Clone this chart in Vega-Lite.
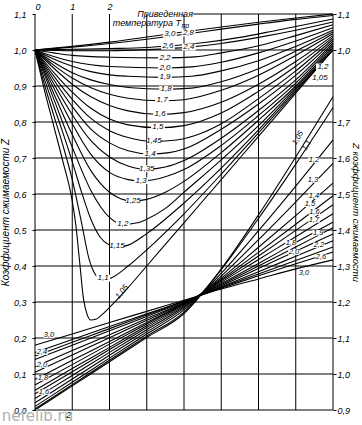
{
  "$schema": "https://vega.github.io/schema/vega-lite/v6.json",
  "width": 298,
  "height": 396,
  "autosize": {"type": "none"},
  "padding": {"left": 35, "top": 14, "right": 29, "bottom": 15},
  "background": "white",
  "config": {
    "view": {"stroke": null},
    "text": {"font": "Liberation Sans"},
    "axis": {"labelFont": "Liberation Sans", "titleFont": "Liberation Sans", "labelColor": "black", "titleColor": "black", "tickColor": "black", "domain": false, "grid": false}
  },
  "datasets": {
    "gridV": [{"u":0},{"u":1},{"u":2},{"u":3},{"u":4},{"u":5},{"u":6},{"u":7},{"u":8}],
    "gridH": [
      {"Z":0,"u":0,"u2":8},{"Z":0.1,"u":0,"u2":8},{"Z":0.2,"u":0,"u2":8},{"Z":0.3,"u":0,"u2":8},
      {"Z":0.4,"u":0,"u2":8},{"Z":0.5,"u":0,"u2":8},{"Z":0.6,"u":0,"u2":8},{"Z":0.7,"u":0,"u2":8},
      {"Z":0.8,"u":0,"u2":8},{"Z":0.9,"u":0,"u2":8},{"Z":1.0,"u":0,"u2":8},{"Z":1.1,"u":4.25,"u2":8}
    ],
    "famA": [
      {"T":"1.05","u":0,"Z":1},{"T":"1.05","u":0.25,"Z":0.89},{"T":"1.05","u":0.5,"Z":0.79},{"T":"1.05","u":0.75,"Z":0.69},{"T":"1.05","u":1,"Z":0.58},{"T":"1.05","u":1.1,"Z":0.51},{"T":"1.05","u":1.2,"Z":0.41},{"T":"1.05","u":1.3,"Z":0.31},{"T":"1.05","u":1.4,"Z":0.265},{"T":"1.05","u":1.5,"Z":0.25},{"T":"1.05","u":1.65,"Z":0.253},{"T":"1.05","u":1.8,"Z":0.265},{"T":"1.05","u":2,"Z":0.285},{"T":"1.05","u":2.5,"Z":0.34},{"T":"1.05","u":3,"Z":0.4},{"T":"1.05","u":4,"Z":0.52},{"T":"1.05","u":5,"Z":0.64},{"T":"1.05","u":6,"Z":0.76},{"T":"1.05","u":7,"Z":0.88},{"T":"1.05","u":8,"Z":1.0},
      {"T":"1.1","u":0,"Z":1},{"T":"1.1","u":0.25,"Z":0.905},{"T":"1.1","u":0.5,"Z":0.82},{"T":"1.1","u":0.75,"Z":0.735},{"T":"1.1","u":1,"Z":0.64},{"T":"1.1","u":1.25,"Z":0.52},{"T":"1.1","u":1.45,"Z":0.42},{"T":"1.1","u":1.6,"Z":0.38},{"T":"1.1","u":1.8,"Z":0.362},{"T":"1.1","u":2,"Z":0.365},{"T":"1.1","u":2.5,"Z":0.4},{"T":"1.1","u":3,"Z":0.445},{"T":"1.1","u":4,"Z":0.545},{"T":"1.1","u":5,"Z":0.655},{"T":"1.1","u":6,"Z":0.77},{"T":"1.1","u":7,"Z":0.885},{"T":"1.1","u":8,"Z":1.0},
      {"T":"1.15","u":0,"Z":1},{"T":"1.15","u":0.25,"Z":0.92},{"T":"1.15","u":0.5,"Z":0.845},{"T":"1.15","u":0.75,"Z":0.77},{"T":"1.15","u":1,"Z":0.69},{"T":"1.15","u":1.25,"Z":0.605},{"T":"1.15","u":1.5,"Z":0.53},{"T":"1.15","u":1.75,"Z":0.48},{"T":"1.15","u":2,"Z":0.458},{"T":"1.15","u":2.2,"Z":0.452},{"T":"1.15","u":2.5,"Z":0.458},{"T":"1.15","u":3,"Z":0.49},{"T":"1.15","u":4,"Z":0.575},{"T":"1.15","u":5,"Z":0.672},{"T":"1.15","u":6,"Z":0.778},{"T":"1.15","u":7,"Z":0.89},{"T":"1.15","u":8,"Z":1.0},
      {"T":"1.2","u":0,"Z":1},{"T":"1.2","u":0.5,"Z":0.865},{"T":"1.2","u":1,"Z":0.73},{"T":"1.2","u":1.5,"Z":0.61},{"T":"1.2","u":2,"Z":0.535},{"T":"1.2","u":2.36,"Z":0.515},{"T":"1.2","u":2.75,"Z":0.52},{"T":"1.2","u":3,"Z":0.53},{"T":"1.2","u":3.5,"Z":0.56},{"T":"1.2","u":4,"Z":0.605},{"T":"1.2","u":5,"Z":0.695},{"T":"1.2","u":6,"Z":0.79},{"T":"1.2","u":7,"Z":0.895},{"T":"1.2","u":8,"Z":1.005},
      {"T":"1.25","u":0,"Z":1},{"T":"1.25","u":0.5,"Z":0.88},{"T":"1.25","u":1,"Z":0.765},{"T":"1.25","u":1.5,"Z":0.665},{"T":"1.25","u":2,"Z":0.605},{"T":"1.25","u":2.3,"Z":0.587},{"T":"1.25","u":2.63,"Z":0.58},{"T":"1.25","u":3,"Z":0.585},{"T":"1.25","u":3.5,"Z":0.605},{"T":"1.25","u":4,"Z":0.635},{"T":"1.25","u":5,"Z":0.715},{"T":"1.25","u":6,"Z":0.805},{"T":"1.25","u":7,"Z":0.9},{"T":"1.25","u":8,"Z":1.01},
      {"T":"1.3","u":0,"Z":1},{"T":"1.3","u":0.5,"Z":0.895},{"T":"1.3","u":1,"Z":0.795},{"T":"1.3","u":1.5,"Z":0.71},{"T":"1.3","u":2,"Z":0.66},{"T":"1.3","u":2.5,"Z":0.64},{"T":"1.3","u":2.85,"Z":0.636},{"T":"1.3","u":3.5,"Z":0.648},{"T":"1.3","u":4,"Z":0.668},{"T":"1.3","u":5,"Z":0.735},{"T":"1.3","u":6,"Z":0.818},{"T":"1.3","u":7,"Z":0.908},{"T":"1.3","u":8,"Z":1.015},
      {"T":"1.35","u":0,"Z":1},{"T":"1.35","u":0.5,"Z":0.907},{"T":"1.35","u":1,"Z":0.82},{"T":"1.35","u":1.5,"Z":0.748},{"T":"1.35","u":2,"Z":0.703},{"T":"1.35","u":2.5,"Z":0.678},{"T":"1.35","u":3,"Z":0.669},{"T":"1.35","u":3.5,"Z":0.675},{"T":"1.35","u":4,"Z":0.693},{"T":"1.35","u":5,"Z":0.755},{"T":"1.35","u":6,"Z":0.832},{"T":"1.35","u":7,"Z":0.917},{"T":"1.35","u":8,"Z":1.02},
      {"T":"1.4","u":0,"Z":1},{"T":"1.4","u":0.5,"Z":0.918},{"T":"1.4","u":1,"Z":0.843},{"T":"1.4","u":1.5,"Z":0.78},{"T":"1.4","u":2,"Z":0.742},{"T":"1.4","u":2.5,"Z":0.72},{"T":"1.4","u":3.1,"Z":0.711},{"T":"1.4","u":3.6,"Z":0.715},{"T":"1.4","u":4,"Z":0.725},{"T":"1.4","u":5,"Z":0.78},{"T":"1.4","u":6,"Z":0.85},{"T":"1.4","u":7,"Z":0.93},{"T":"1.4","u":8,"Z":1.025},
      {"T":"1.45","u":0,"Z":1},{"T":"1.45","u":0.5,"Z":0.928},{"T":"1.45","u":1,"Z":0.863},{"T":"1.45","u":1.5,"Z":0.81},{"T":"1.45","u":2,"Z":0.776},{"T":"1.45","u":2.5,"Z":0.757},{"T":"1.45","u":3.2,"Z":0.746},{"T":"1.45","u":3.8,"Z":0.75},{"T":"1.45","u":4.5,"Z":0.77},{"T":"1.45","u":5,"Z":0.795},{"T":"1.45","u":6,"Z":0.865},{"T":"1.45","u":7,"Z":0.942},{"T":"1.45","u":8,"Z":1.03},
      {"T":"1.5","u":0,"Z":1},{"T":"1.5","u":0.5,"Z":0.938},{"T":"1.5","u":1,"Z":0.883},{"T":"1.5","u":1.5,"Z":0.838},{"T":"1.5","u":2,"Z":0.808},{"T":"1.5","u":2.5,"Z":0.792},{"T":"1.5","u":3.3,"Z":0.784},{"T":"1.5","u":4,"Z":0.79},{"T":"1.5","u":5,"Z":0.825},{"T":"1.5","u":6,"Z":0.885},{"T":"1.5","u":7,"Z":0.955},{"T":"1.5","u":8,"Z":1.035},
      {"T":"1.6","u":0,"Z":1},{"T":"1.6","u":0.5,"Z":0.95},{"T":"1.6","u":1,"Z":0.905},{"T":"1.6","u":1.5,"Z":0.87},{"T":"1.6","u":2,"Z":0.846},{"T":"1.6","u":2.5,"Z":0.831},{"T":"1.6","u":3.36,"Z":0.821},{"T":"1.6","u":4,"Z":0.826},{"T":"1.6","u":5,"Z":0.855},{"T":"1.6","u":6,"Z":0.905},{"T":"1.6","u":7,"Z":0.968},{"T":"1.6","u":8,"Z":1.04},
      {"T":"1.7","u":0,"Z":1},{"T":"1.7","u":0.5,"Z":0.958},{"T":"1.7","u":1,"Z":0.922},{"T":"1.7","u":1.5,"Z":0.895},{"T":"1.7","u":2,"Z":0.877},{"T":"1.7","u":2.5,"Z":0.866},{"T":"1.7","u":3.41,"Z":0.859},{"T":"1.7","u":4,"Z":0.862},{"T":"1.7","u":5,"Z":0.888},{"T":"1.7","u":6,"Z":0.93},{"T":"1.7","u":7,"Z":0.985},{"T":"1.7","u":8,"Z":1.045},
      {"T":"1.8","u":0,"Z":1},{"T":"1.8","u":0.5,"Z":0.966},{"T":"1.8","u":1,"Z":0.937},{"T":"1.8","u":1.5,"Z":0.917},{"T":"1.8","u":2,"Z":0.904},{"T":"1.8","u":2.5,"Z":0.896},{"T":"1.8","u":3.52,"Z":0.891},{"T":"1.8","u":4.2,"Z":0.894},{"T":"1.8","u":5,"Z":0.912},{"T":"1.8","u":6,"Z":0.948},{"T":"1.8","u":7,"Z":0.997},{"T":"1.8","u":8,"Z":1.05},
      {"T":"1.9","u":0,"Z":1},{"T":"1.9","u":0.5,"Z":0.975},{"T":"1.9","u":1,"Z":0.955},{"T":"1.9","u":1.5,"Z":0.94},{"T":"1.9","u":2,"Z":0.931},{"T":"1.9","u":2.5,"Z":0.927},{"T":"1.9","u":3.49,"Z":0.924},{"T":"1.9","u":4.2,"Z":0.927},{"T":"1.9","u":5,"Z":0.942},{"T":"1.9","u":6,"Z":0.97},{"T":"1.9","u":7,"Z":1.01},{"T":"1.9","u":8,"Z":1.055},
      {"T":"2.0","u":0,"Z":1},{"T":"2.0","u":0.5,"Z":0.982},{"T":"2.0","u":1,"Z":0.968},{"T":"2.0","u":1.5,"Z":0.959},{"T":"2.0","u":2,"Z":0.954},{"T":"2.0","u":3.49,"Z":0.95},{"T":"2.0","u":4.2,"Z":0.953},{"T":"2.0","u":5,"Z":0.966},{"T":"2.0","u":6,"Z":0.992},{"T":"2.0","u":7,"Z":1.025},{"T":"2.0","u":8,"Z":1.062},
      {"T":"2.2","u":0,"Z":1},{"T":"2.2","u":0.5,"Z":0.992},{"T":"2.2","u":1,"Z":0.985},{"T":"2.2","u":2,"Z":0.98},{"T":"2.2","u":3.49,"Z":0.978},{"T":"2.2","u":4.3,"Z":0.981},{"T":"2.2","u":5,"Z":0.992},{"T":"2.2","u":6,"Z":1.012},{"T":"2.2","u":7,"Z":1.04},{"T":"2.2","u":8,"Z":1.07},
      {"T":"2.4","u":0,"Z":1},{"T":"2.4","u":1,"Z":0.998},{"T":"2.4","u":2,"Z":0.998},{"T":"2.4","u":3,"Z":1.001},{"T":"2.4","u":4.13,"Z":1.008},{"T":"2.4","u":5,"Z":1.018},{"T":"2.4","u":6,"Z":1.035},{"T":"2.4","u":7,"Z":1.055},{"T":"2.4","u":8,"Z":1.078},
      {"T":"2.6","u":0,"Z":1},{"T":"2.6","u":1,"Z":1.002},{"T":"2.6","u":2,"Z":1.004},{"T":"2.6","u":3,"Z":1.007},{"T":"2.6","u":3.57,"Z":1.011},{"T":"2.6","u":4.5,"Z":1.02},{"T":"2.6","u":5.5,"Z":1.035},{"T":"2.6","u":6.5,"Z":1.055},{"T":"2.6","u":8,"Z":1.086},
      {"T":"2.8","u":0,"Z":1},{"T":"2.8","u":1,"Z":1.008},{"T":"2.8","u":2,"Z":1.018},{"T":"2.8","u":3,"Z":1.03},{"T":"2.8","u":4.12,"Z":1.045},{"T":"2.8","u":5,"Z":1.058},{"T":"2.8","u":6,"Z":1.072},{"T":"2.8","u":7,"Z":1.085},{"T":"2.8","u":8,"Z":1.096},
      {"T":"3.0","u":0,"Z":1},{"T":"3.0","u":1,"Z":1.01},{"T":"3.0","u":2,"Z":1.022},{"T":"3.0","u":3,"Z":1.036},{"T":"3.0","u":3.62,"Z":1.045},{"T":"3.0","u":5,"Z":1.064},{"T":"3.0","u":6,"Z":1.077},{"T":"3.0","u":7,"Z":1.089},{"T":"3.0","u":8,"Z":1.1}
    ],
    "famC": [
      {"T":"1.05","u":0,"Zr":0.9},{"T":"1.05","u":1,"Zr":0.967},{"T":"1.05","u":2,"Zr":1.034},{"T":"1.05","u":3,"Zr":1.101},{"T":"1.05","u":4,"Zr":1.168},{"T":"1.05","u":5,"Zr":1.292},{"T":"1.05","u":6,"Zr":1.442},{"T":"1.05","u":7,"Zr":1.603},{"T":"1.05","u":8,"Zr":1.77},
      {"T":"1.1","u":0,"Zr":0.903},{"T":"1.1","u":1,"Zr":0.97},{"T":"1.1","u":2,"Zr":1.038},{"T":"1.1","u":3,"Zr":1.105},{"T":"1.1","u":4,"Zr":1.172},{"T":"1.1","u":5,"Zr":1.29},{"T":"1.1","u":6,"Zr":1.432},{"T":"1.1","u":7,"Zr":1.583},{"T":"1.1","u":8,"Zr":1.74},
      {"T":"1.2","u":0,"Zr":0.91},{"T":"1.2","u":1,"Zr":0.977},{"T":"1.2","u":2,"Zr":1.044},{"T":"1.2","u":3,"Zr":1.111},{"T":"1.2","u":4,"Zr":1.178},{"T":"1.2","u":5,"Zr":1.28},{"T":"1.2","u":6,"Zr":1.398},{"T":"1.2","u":7,"Zr":1.522},{"T":"1.2","u":8,"Zr":1.65},
      {"T":"1.3","u":0,"Zr":0.92},{"T":"1.3","u":1,"Zr":0.986},{"T":"1.3","u":2,"Zr":1.052},{"T":"1.3","u":3,"Zr":1.117},{"T":"1.3","u":4,"Zr":1.183},{"T":"1.3","u":5,"Zr":1.272},{"T":"1.3","u":6,"Zr":1.373},{"T":"1.3","u":7,"Zr":1.478},{"T":"1.3","u":8,"Zr":1.585},
      {"T":"1.4","u":0,"Zr":0.932},{"T":"1.4","u":1,"Zr":0.996},{"T":"1.4","u":2,"Zr":1.06},{"T":"1.4","u":3,"Zr":1.123},{"T":"1.4","u":4,"Zr":1.187},{"T":"1.4","u":5,"Zr":1.266},{"T":"1.4","u":6,"Zr":1.352},{"T":"1.4","u":7,"Zr":1.44},{"T":"1.4","u":8,"Zr":1.53},
      {"T":"1.5","u":0,"Zr":0.945},{"T":"1.5","u":1,"Zr":1.006},{"T":"1.5","u":2,"Zr":1.068},{"T":"1.5","u":3,"Zr":1.129},{"T":"1.5","u":4,"Zr":1.19},{"T":"1.5","u":5,"Zr":1.262},{"T":"1.5","u":6,"Zr":1.338},{"T":"1.5","u":7,"Zr":1.416},{"T":"1.5","u":8,"Zr":1.495},
      {"T":"1.6","u":0,"Zr":0.955},{"T":"1.6","u":1,"Zr":1.015},{"T":"1.6","u":2,"Zr":1.074},{"T":"1.6","u":3,"Zr":1.134},{"T":"1.6","u":4,"Zr":1.193},{"T":"1.6","u":5,"Zr":1.259},{"T":"1.6","u":6,"Zr":1.328},{"T":"1.6","u":7,"Zr":1.399},{"T":"1.6","u":8,"Zr":1.47},
      {"T":"1.7","u":0,"Zr":0.97},{"T":"1.7","u":1,"Zr":1.026},{"T":"1.7","u":2,"Zr":1.083},{"T":"1.7","u":3,"Zr":1.139},{"T":"1.7","u":4,"Zr":1.195},{"T":"1.7","u":5,"Zr":1.255},{"T":"1.7","u":6,"Zr":1.318},{"T":"1.7","u":7,"Zr":1.381},{"T":"1.7","u":8,"Zr":1.445},
      {"T":"1.8","u":0,"Zr":0.985},{"T":"1.8","u":1,"Zr":1.038},{"T":"1.8","u":2,"Zr":1.09},{"T":"1.8","u":3,"Zr":1.143},{"T":"1.8","u":4,"Zr":1.196},{"T":"1.8","u":5,"Zr":1.251},{"T":"1.8","u":6,"Zr":1.307},{"T":"1.8","u":7,"Zr":1.365},{"T":"1.8","u":8,"Zr":1.422},
      {"T":"1.9","u":0,"Zr":1.005},{"T":"1.9","u":1,"Zr":1.053},{"T":"1.9","u":2,"Zr":1.101},{"T":"1.9","u":3,"Zr":1.149},{"T":"1.9","u":4,"Zr":1.197},{"T":"1.9","u":5,"Zr":1.248},{"T":"1.9","u":6,"Zr":1.3},{"T":"1.9","u":7,"Zr":1.353},{"T":"1.9","u":8,"Zr":1.406},
      {"T":"2.0","u":0,"Zr":1.02},{"T":"2.0","u":1,"Zr":1.065},{"T":"2.0","u":2,"Zr":1.109},{"T":"2.0","u":3,"Zr":1.154},{"T":"2.0","u":4,"Zr":1.198},{"T":"2.0","u":5,"Zr":1.245},{"T":"2.0","u":6,"Zr":1.293},{"T":"2.0","u":7,"Zr":1.341},{"T":"2.0","u":8,"Zr":1.389},
      {"T":"2.2","u":0,"Zr":1.04},{"T":"2.2","u":1,"Zr":1.08},{"T":"2.2","u":2,"Zr":1.12},{"T":"2.2","u":3,"Zr":1.16},{"T":"2.2","u":4,"Zr":1.2},{"T":"2.2","u":5,"Zr":1.242},{"T":"2.2","u":6,"Zr":1.284},{"T":"2.2","u":7,"Zr":1.327},{"T":"2.2","u":8,"Zr":1.37},
      {"T":"2.4","u":0,"Zr":1.05},{"T":"2.4","u":1,"Zr":1.088},{"T":"2.4","u":2,"Zr":1.126},{"T":"2.4","u":3,"Zr":1.164},{"T":"2.4","u":4,"Zr":1.202},{"T":"2.4","u":5,"Zr":1.24},{"T":"2.4","u":6,"Zr":1.278},{"T":"2.4","u":7,"Zr":1.315},{"T":"2.4","u":8,"Zr":1.353},
      {"T":"2.6","u":0,"Zr":1.06},{"T":"2.6","u":1,"Zr":1.096},{"T":"2.6","u":2,"Zr":1.132},{"T":"2.6","u":3,"Zr":1.167},{"T":"2.6","u":4,"Zr":1.203},{"T":"2.6","u":5,"Zr":1.238},{"T":"2.6","u":6,"Zr":1.273},{"T":"2.6","u":7,"Zr":1.306},{"T":"2.6","u":8,"Zr":1.339},
      {"T":"3.0","u":0,"Zr":1.08},{"T":"3.0","u":1,"Zr":1.111},{"T":"3.0","u":2,"Zr":1.143},{"T":"3.0","u":3,"Zr":1.174},{"T":"3.0","u":4,"Zr":1.205},{"T":"3.0","u":5,"Zr":1.236},{"T":"3.0","u":6,"Zr":1.264},{"T":"3.0","u":7,"Zr":1.292},{"T":"3.0","u":8,"Zr":1.317}
    ],
    "labA": [
      {"t":"3,0","u":3.62,"Z":1.044,"a":0},{"t":"2,8","u":4.12,"Z":1.047,"a":0},{"t":"2,6","u":3.57,"Z":1.011,"a":0},{"t":"2,4","u":4.13,"Z":1.008,"a":0},
      {"t":"2,2","u":3.49,"Z":0.978,"a":0},{"t":"2,0","u":3.49,"Z":0.95,"a":0},{"t":"1,9","u":3.49,"Z":0.925,"a":0},{"t":"1,8","u":3.52,"Z":0.891,"a":0},
      {"t":"1,7","u":3.41,"Z":0.86,"a":0},{"t":"1,6","u":3.36,"Z":0.821,"a":0},{"t":"1,5","u":3.3,"Z":0.785,"a":0},{"t":"1,45","u":3.19,"Z":0.746,"a":0},
      {"t":"1,4","u":3.09,"Z":0.712,"a":0},{"t":"1,35","u":3.0,"Z":0.67,"a":0},{"t":"1,3","u":2.85,"Z":0.637,"a":0},{"t":"1,25","u":2.63,"Z":0.581,"a":0},
      {"t":"1,2","u":2.36,"Z":0.517,"a":0},{"t":"1,15","u":2.2,"Z":0.455,"a":0},{"t":"1,1","u":1.83,"Z":0.366,"a":0},{"t":"1,05","u":2.34,"Z":0.328,"a":-50},
      {"t":"1,2","u":7.73,"Z":0.953,"a":0},{"t":"1,05","u":7.65,"Z":0.922,"a":0}
    ],
    "labC": [
      {"t":"1,05","u":7.06,"Zr":1.656,"a":-60},{"t":"1,1","u":7.3,"Zr":1.635,"a":-60},
      {"t":"1,2","u":7.49,"Zr":1.594,"a":0},{"t":"1,3","u":7.46,"Zr":1.539,"a":0},{"t":"1,4","u":7.49,"Zr":1.494,"a":0},{"t":"1,5","u":7.38,"Zr":1.472,"a":0},
      {"t":"1,6","u":7.5,"Zr":1.45,"a":0},{"t":"1,7","u":7.49,"Zr":1.428,"a":0},{"t":"1,9","u":7.6,"Zr":1.392,"a":0},{"t":"1,8","u":6.87,"Zr":1.364,"a":0},
      {"t":"2,2","u":7.62,"Zr":1.358,"a":0},{"t":"2,0","u":6.95,"Zr":1.339,"a":0},{"t":"2,6","u":7.68,"Zr":1.325,"a":0},{"t":"3,0","u":7.22,"Zr":1.281,"a":0},
      {"t":"3,0","u":0.376,"Zr":1.108,"a":0},{"t":"2,4","u":0.188,"Zr":1.061,"a":0},{"t":"2,0","u":0.188,"Zr":1.025,"a":0},{"t":"1,8","u":0.215,"Zr":0.989,"a":0},{"t":"1,6","u":0.242,"Zr":0.95,"a":0}
    ],
    "legendTxt": [
      {"t":"Приведенная","u":4.24,"Z":1.1},{"t":"температура T","u":3.92,"Z":1.074}
    ],
    "subTxt": [{"t":"пр","u":3.93,"Z":1.066}],
    "bottomLbl": [{"t":"2","u":0.9,"Z":0}],
    "wmark": [{"t":"nefelib.ru","u":-0.92,"Z":0}]
  },
  "encoding": {
    "x": {"field":"u","type":"quantitative","scale":{"domain":[0,8],"nice":false,"zero":false},
          "axis":{"orient":"top","values":[0,1,2],"format":"d","ticks":false,"labelPadding":3,"labelFontSize":9,"labelFontStyle":"italic","title":null}}
  },
  "layer": [
    {"data":{"name":"gridV"},"mark":{"type":"rule","color":"black","strokeWidth":1},"encoding":{}},
    {"data":{"name":"gridH"},"mark":{"type":"rule","color":"black","strokeWidth":1},
     "encoding":{"x2":{"field":"u2"},"y":{"field":"Z","type":"quantitative","scale":{"domain":[0,1.1],"nice":false,"zero":false},"axis":null}}},
    {"data":{"name":"famA"},"mark":{"type":"line","color":"black","strokeWidth":1.1,"interpolate":"monotone"},
     "encoding":{"detail":{"field":"T"},"y":{"field":"Z","type":"quantitative","scale":{"domain":[0,1.1],"nice":false,"zero":false},
       "axis":{"orient":"left","values":[0,0.1,0.2,0.3,0.4,0.5,0.6,0.7,0.8,0.9,1,1.1],"labelExpr":"replace(format(datum.value,'.1f'),'.',',')","ticks":true,"tickSize":3,"labelPadding":6,"labelFontSize":9,"labelFontStyle":"italic","title":"Коэффициент сжимаемости Z","titleFontSize":10,"titleFontStyle":"italic","titleFontWeight":"normal","titlePadding":3}}}},
    {"data":{"name":"famC"},"mark":{"type":"line","color":"black","strokeWidth":1.1,"interpolate":"monotone"},
     "encoding":{"detail":{"field":"T"},"y":{"field":"Zr","type":"quantitative","scale":{"domain":[0.9,2.0],"nice":false,"zero":false},
       "axis":{"orient":"right","values":[0.9,1,1.1,1.2,1.3,1.4,1.5,1.6,1.7,1.9,2],"labelExpr":"replace(format(datum.value > 1.85 ? datum.value - 0.9 : datum.value,'.1f'),'.',',')","ticks":true,"tickSize":3,"labelPadding":1,"labelFontSize":9,"labelFontStyle":"italic","title":"Z коэффициент сжимаемости","titleFontSize":9.5,"titleFontStyle":"italic","titleFontWeight":"normal","titlePadding":1}}}},
    {"data":{"name":"labA"},"transform":[{"filter":"datum.a == 0"}],
     "mark":{"type":"point","shape":"M-1,-0.5L1,-0.5L1,0.5L-1,0.5Z","size":190,"filled":true,"fill":"white","stroke":null,"opacity":1},
     "encoding":{"y":{"field":"Z","type":"quantitative","scale":{"domain":[0,1.1],"nice":false,"zero":false},"axis":null}}},
    {"data":{"name":"labC"},"transform":[{"filter":"datum.a == 0"}],
     "mark":{"type":"point","shape":"M-1,-0.5L1,-0.5L1,0.5L-1,0.5Z","size":130,"filled":true,"fill":"white","stroke":null,"opacity":1},
     "encoding":{"y":{"field":"Zr","type":"quantitative","scale":{"domain":[0.9,2.0],"nice":false,"zero":false},"axis":null}}},
    {"data":{"name":"labA"},"mark":{"type":"text","fontSize":8,"fontStyle":"italic","color":"black","baseline":"middle","align":"center"},
     "encoding":{"text":{"field":"t"},"angle":{"field":"a","type":"quantitative","scale":null},"y":{"field":"Z","type":"quantitative","scale":{"domain":[0,1.1],"nice":false,"zero":false},"axis":null}}},
    {"data":{"name":"labC"},"mark":{"type":"text","fontSize":7.5,"fontStyle":"italic","color":"black","baseline":"middle","align":"center"},
     "encoding":{"text":{"field":"t"},"angle":{"field":"a","type":"quantitative","scale":null},"y":{"field":"Zr","type":"quantitative","scale":{"domain":[0.9,2.0],"nice":false,"zero":false},"axis":null}}},
    {"data":{"name":"legendTxt"},"mark":{"type":"text","fontSize":9,"fontStyle":"italic","color":"black","baseline":"middle","align":"right"},
     "encoding":{"text":{"field":"t"},"y":{"field":"Z","type":"quantitative","scale":{"domain":[0,1.1],"nice":false,"zero":false},"axis":null}}},
    {"data":{"name":"subTxt"},"mark":{"type":"text","fontSize":7,"fontStyle":"italic","color":"black","baseline":"middle","align":"left"},
     "encoding":{"text":{"field":"t"},"y":{"field":"Z","type":"quantitative","scale":{"domain":[0,1.1],"nice":false,"zero":false},"axis":null}}},
    {"data":{"name":"bottomLbl"},"mark":{"type":"text","fontSize":9,"fontStyle":"italic","color":"black","baseline":"top","align":"center","dy":1},
     "encoding":{"text":{"field":"t"},"y":{"field":"Z","type":"quantitative","scale":{"domain":[0,1.1],"nice":false,"zero":false},"axis":null}}},
    {"data":{"name":"wmark"},"mark":{"type":"text","fontSize":15,"font":"DejaVu Sans","color":"#b0b0b0","baseline":"middle","align":"left","dy":6,"dx":1},
     "encoding":{"text":{"field":"t"},"y":{"field":"Z","type":"quantitative","scale":{"domain":[0,1.1],"nice":false,"zero":false},"axis":null}}}
  ],
  "resolve": {"scale": {"y": "independent"}}
}
